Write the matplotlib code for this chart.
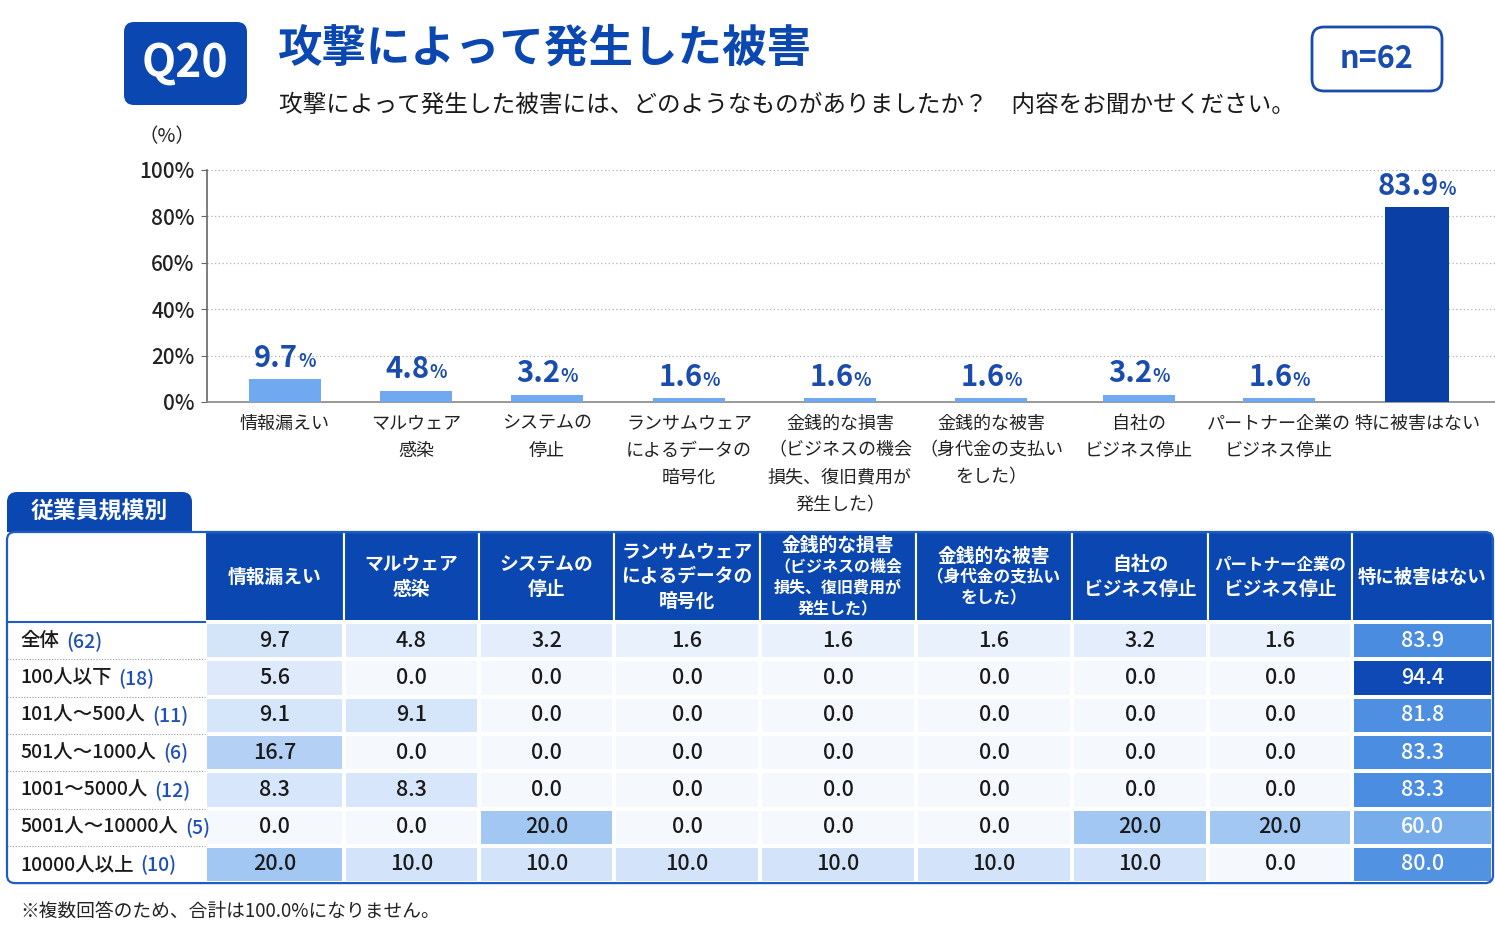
import matplotlib
matplotlib.use('Agg')
import matplotlib.pyplot as plt
from matplotlib.patches import FancyBboxPatch, Rectangle
from matplotlib.colors import LinearSegmentedColormap, Normalize

plt.rcParams['font.family'] = ['Noto Sans CJK JP', 'DejaVu Sans']

# data
categories = ['情報漏えい', 'マルウェア\n感染', 'システムの\n停止',
              'ランサムウェア\nによるデータの\n暗号化',
              '金銭的な損害\n（ビジネスの機会\n損失、復旧費用が\n発生した）',
              '金銭的な被害\n（身代金の支払い\nをした）',
              '自社の\nビジネス停止', 'パートナー企業の\nビジネス停止', '特に被害はない']
overall_pct = [9.7, 4.8, 3.2, 1.6, 1.6, 1.6, 3.2, 1.6, 83.9]
groups = ['全体', '100人以下', '101人～500人', '501人～1000人', '1001～5000人',
          '5001人～10000人', '10000人以上']
group_n = [62, 18, 11, 6, 12, 5, 10]
table_pct = [
    overall_pct,
    [5.6, 0.0, 0.0, 0.0, 0.0, 0.0, 0.0, 0.0, 94.4],
    [9.1, 9.1, 0.0, 0.0, 0.0, 0.0, 0.0, 0.0, 81.8],
    [16.7, 0.0, 0.0, 0.0, 0.0, 0.0, 0.0, 0.0, 83.3],
    [8.3, 8.3, 0.0, 0.0, 0.0, 0.0, 0.0, 0.0, 83.3],
    [0.0, 0.0, 20.0, 0.0, 0.0, 0.0, 20.0, 20.0, 60.0],
    [20.0, 10.0, 10.0, 10.0, 10.0, 10.0, 10.0, 0.0, 80.0],
]
yticks = [0, 20, 40, 60, 80, 100]

# colours
navy = '#0b47b0'
label_blue = '#1a4cae'
bar_light = '#70a9f0'
bar_dark = '#0a3fa6'
cmap = LinearSegmentedColormap.from_list('cells', [
    (0.0, '#f5f9fe'), (0.02, '#e6effc'), (0.1, '#d3e4fa'), (0.2, '#a3c7f3'),
    (0.6, '#78adeb'), (0.84, '#4a8ce0'), (0.95, '#0b46b4'), (1.0, '#0a40a8')])

W, H = 1495, 934
fig = plt.figure(figsize=(W / 100, H / 100), dpi=100)
fig.patch.set_facecolor('white')

# overlay axes in pixel units (y downwards)
ov = fig.add_axes([0, 0, 1, 1])
ov.set_xlim(0, W)
ov.set_ylim(H, 0)
ov.axis('off')

# layout
col_edges = [7, 205, 344, 479, 614, 760, 916, 1072, 1208, 1352, 1493]
head_top, head_bot = 532, 622
row_h = 37.3
row_edges = [head_bot + i * row_h for i in range(len(groups) + 1)]
col_centers = [(a + b) / 2 for a, b in zip(col_edges[1:-1], col_edges[2:])]
bar_x = [285, 416, 547, 689, 840, 991, 1139, 1279, 1417]

# ---- header ----
ov.add_patch(FancyBboxPatch((124, 22), 123, 83, boxstyle='round,pad=0,rounding_size=10',
                            fc=navy, ec='none'))
ov.text(185.5, 64, 'Q20', color='white', fontsize=32, fontweight='bold', ha='center', va='center')
ov.text(278, 49, '攻撃によって発生した被害', color=navy, fontsize=32, fontweight='bold',
        ha='left', va='center')
ov.text(279, 105, '攻撃によって発生した被害には、どのようなものがありましたか？　内容をお聞かせください。',
        color='#1a1a1a', fontsize=17, ha='left', va='center')
ov.add_patch(FancyBboxPatch((1312, 27), 130, 64, boxstyle='round,pad=0,rounding_size=12',
                            fc='white', ec=label_blue, lw=2))
ov.text(1377, 59, 'n=62', color=label_blue, fontsize=22, fontweight='bold', ha='center', va='center')
ov.text(167, 137, '（%）', color='#222222', fontsize=14, ha='center', va='center')

# ---- bar chart ----
ax = fig.add_axes([207 / W, (H - 402) / H, (W - 207) / W, 232 / H])
bar_colors = [bar_light] * (len(overall_pct) - 1) + [bar_dark]
bar_w = [72] * (len(overall_pct) - 1) + [64]
ax.bar(bar_x, overall_pct, width=bar_w, color=bar_colors, zorder=3)
ax.set_xlim(207, W)
ax.set_ylim(0, 100)
ax.set_yticks(yticks, [f'{t}%' for t in yticks])
ax.yaxis.grid(True, linestyle=(0, (1, 2)), color='#b0b0b0', lw=0.9, zorder=0)
ax.tick_params(axis='y', length=4, color='#666666', labelsize=15, labelcolor='#222222', pad=5)
for lab in ax.get_yticklabels():
    lab.set_fontweight('medium')
ax.set_xticks(bar_x, categories)
ax.tick_params(axis='x', length=0, pad=9, labelsize=13, labelcolor='#222222')
for s in ['top', 'right']:
    ax.spines[s].set_visible(False)
ax.spines['left'].set_color('#666666')
ax.spines['bottom'].set_color('#888888')
ax.spines['left'].set_linewidth(1.2)
ax.spines['bottom'].set_linewidth(1.2)
ax.set_facecolor('none')

num_texts = []
for x, v in zip(bar_x, overall_pct):
    tn = ax.annotate(f'{v:.1f}', xy=(x, v), xytext=(0, 9), textcoords='offset points',
                     ha='right', va='baseline', fontsize=21, fontweight='bold',
                     color=label_blue, annotation_clip=False)
    tp = ax.annotate('%', xy=(x, v), xytext=(0, 9), textcoords='offset points',
                     ha='left', va='baseline', fontsize=13, fontweight='bold',
                     color=label_blue, annotation_clip=False)
    num_texts.append((tn, tp))

# ---- table ----
ov.add_patch(FancyBboxPatch((7, 492), 185, 50, boxstyle='round,pad=0,rounding_size=10',
                            fc=navy, ec='none'))
ov.text(99, 512, '従業員規模別', color='white', fontsize=16.5, fontweight='bold',
        ha='center', va='center')
ov.add_patch(Rectangle((7, head_top), 198, head_bot - head_top, fc='white', ec='none'))
for a, b in zip(col_edges[1:-1], col_edges[2:]):
    ov.add_patch(Rectangle((a, head_top), b - a, head_bot - head_top, fc=navy,
                           ec='white', lw=1.5))

# header texts
head_texts = []
for c, (cx, lab) in enumerate(zip(col_centers, categories)):
    lines = lab.split('\n')
    sizes = []
    small = False
    for ln in lines:
        if ln.startswith('（'):
            small = True
        sizes.append(11.5 if small and len(lines) > 3 else (12 if small else 13.5))
    gaps = [21 if s < 13 else 24.5 for s in sizes]
    total = sum(gaps[1:])
    y = (head_top + head_bot) / 2 - total / 2
    for i, (ln, s) in enumerate(zip(lines, sizes)):
        if i > 0:
            y += gaps[i]
        t = ov.text(cx, y, ln, color='white', fontsize=s, fontweight='bold',
                    ha='center', va='center')
        head_texts.append((t, col_edges[c + 2] - col_edges[c + 1]))

# cells
ov.pcolormesh(col_edges[1:], row_edges, table_pct, cmap=cmap, norm=Normalize(0, 100),
              edgecolors='white', linewidth=1.5)
ncol = len(categories)
for r, row in enumerate(table_pct):
    cy = (row_edges[r] + row_edges[r + 1]) / 2
    for c, v in enumerate(row):
        ov.text(col_centers[c], cy, f'{v:.1f}', fontsize=15.5, fontweight='medium',
                ha='center', va='center',
                color='white' if c == ncol - 1 else '#1a1a1a')

# row labels
ov.plot([7, 205], [head_bot, head_bot], color='#1f5cc4', lw=1.5)
for y in row_edges[1:-1]:
    ov.plot([7, 205], [y, y], color='#9a9a9a', lw=0.8, linestyle=(0, (1, 1.5)))
name_texts = []
for r, (g, n) in enumerate(zip(groups, group_n)):
    cy = (row_edges[r] + row_edges[r + 1]) / 2
    t = ov.text(20, cy, g, fontsize=14, fontweight='medium', ha='left', va='center',
                color='#1a1a1a')
    name_texts.append((t, cy, n))

ov.add_patch(FancyBboxPatch((7, head_top), 1486, row_edges[-1] - head_top,
                            boxstyle='round,pad=0,rounding_size=8', fc='none',
                            ec='#1f5cc4', lw=1.6, zorder=5))

ov.text(20, 911, '※複数回答のため、合計は100.0%になりません。', fontsize=13.5,
        ha='left', va='center', color='#222222')

# measure text to place the split labels
fig.canvas.draw()
rend = fig.canvas.get_renderer()
for lab in ax.get_xticklabels():
    lab.set_linespacing(1.65)
for tn, tp in num_texts:
    wn = tn.get_window_extent(rend).width
    wp = tp.get_window_extent(rend).width
    shift = (wn - wp) / 2 * 72 / fig.dpi
    tn.xyann = (shift, 9)
    tp.xyann = (shift, 9)
for t, cw in head_texts:
    w = t.get_window_extent(rend).width
    if w > cw - 12:
        t.set_fontsize(t.get_fontsize() * (cw - 12) / w)
for t, cy, n in name_texts:
    bb = t.get_window_extent(rend)
    ov.text(20 + bb.width + 7, cy, f'({n})', fontsize=14, fontweight='medium',
            ha='left', va='center', color='#1f4fb8')

fig.savefig('out.png', dpi=100)
